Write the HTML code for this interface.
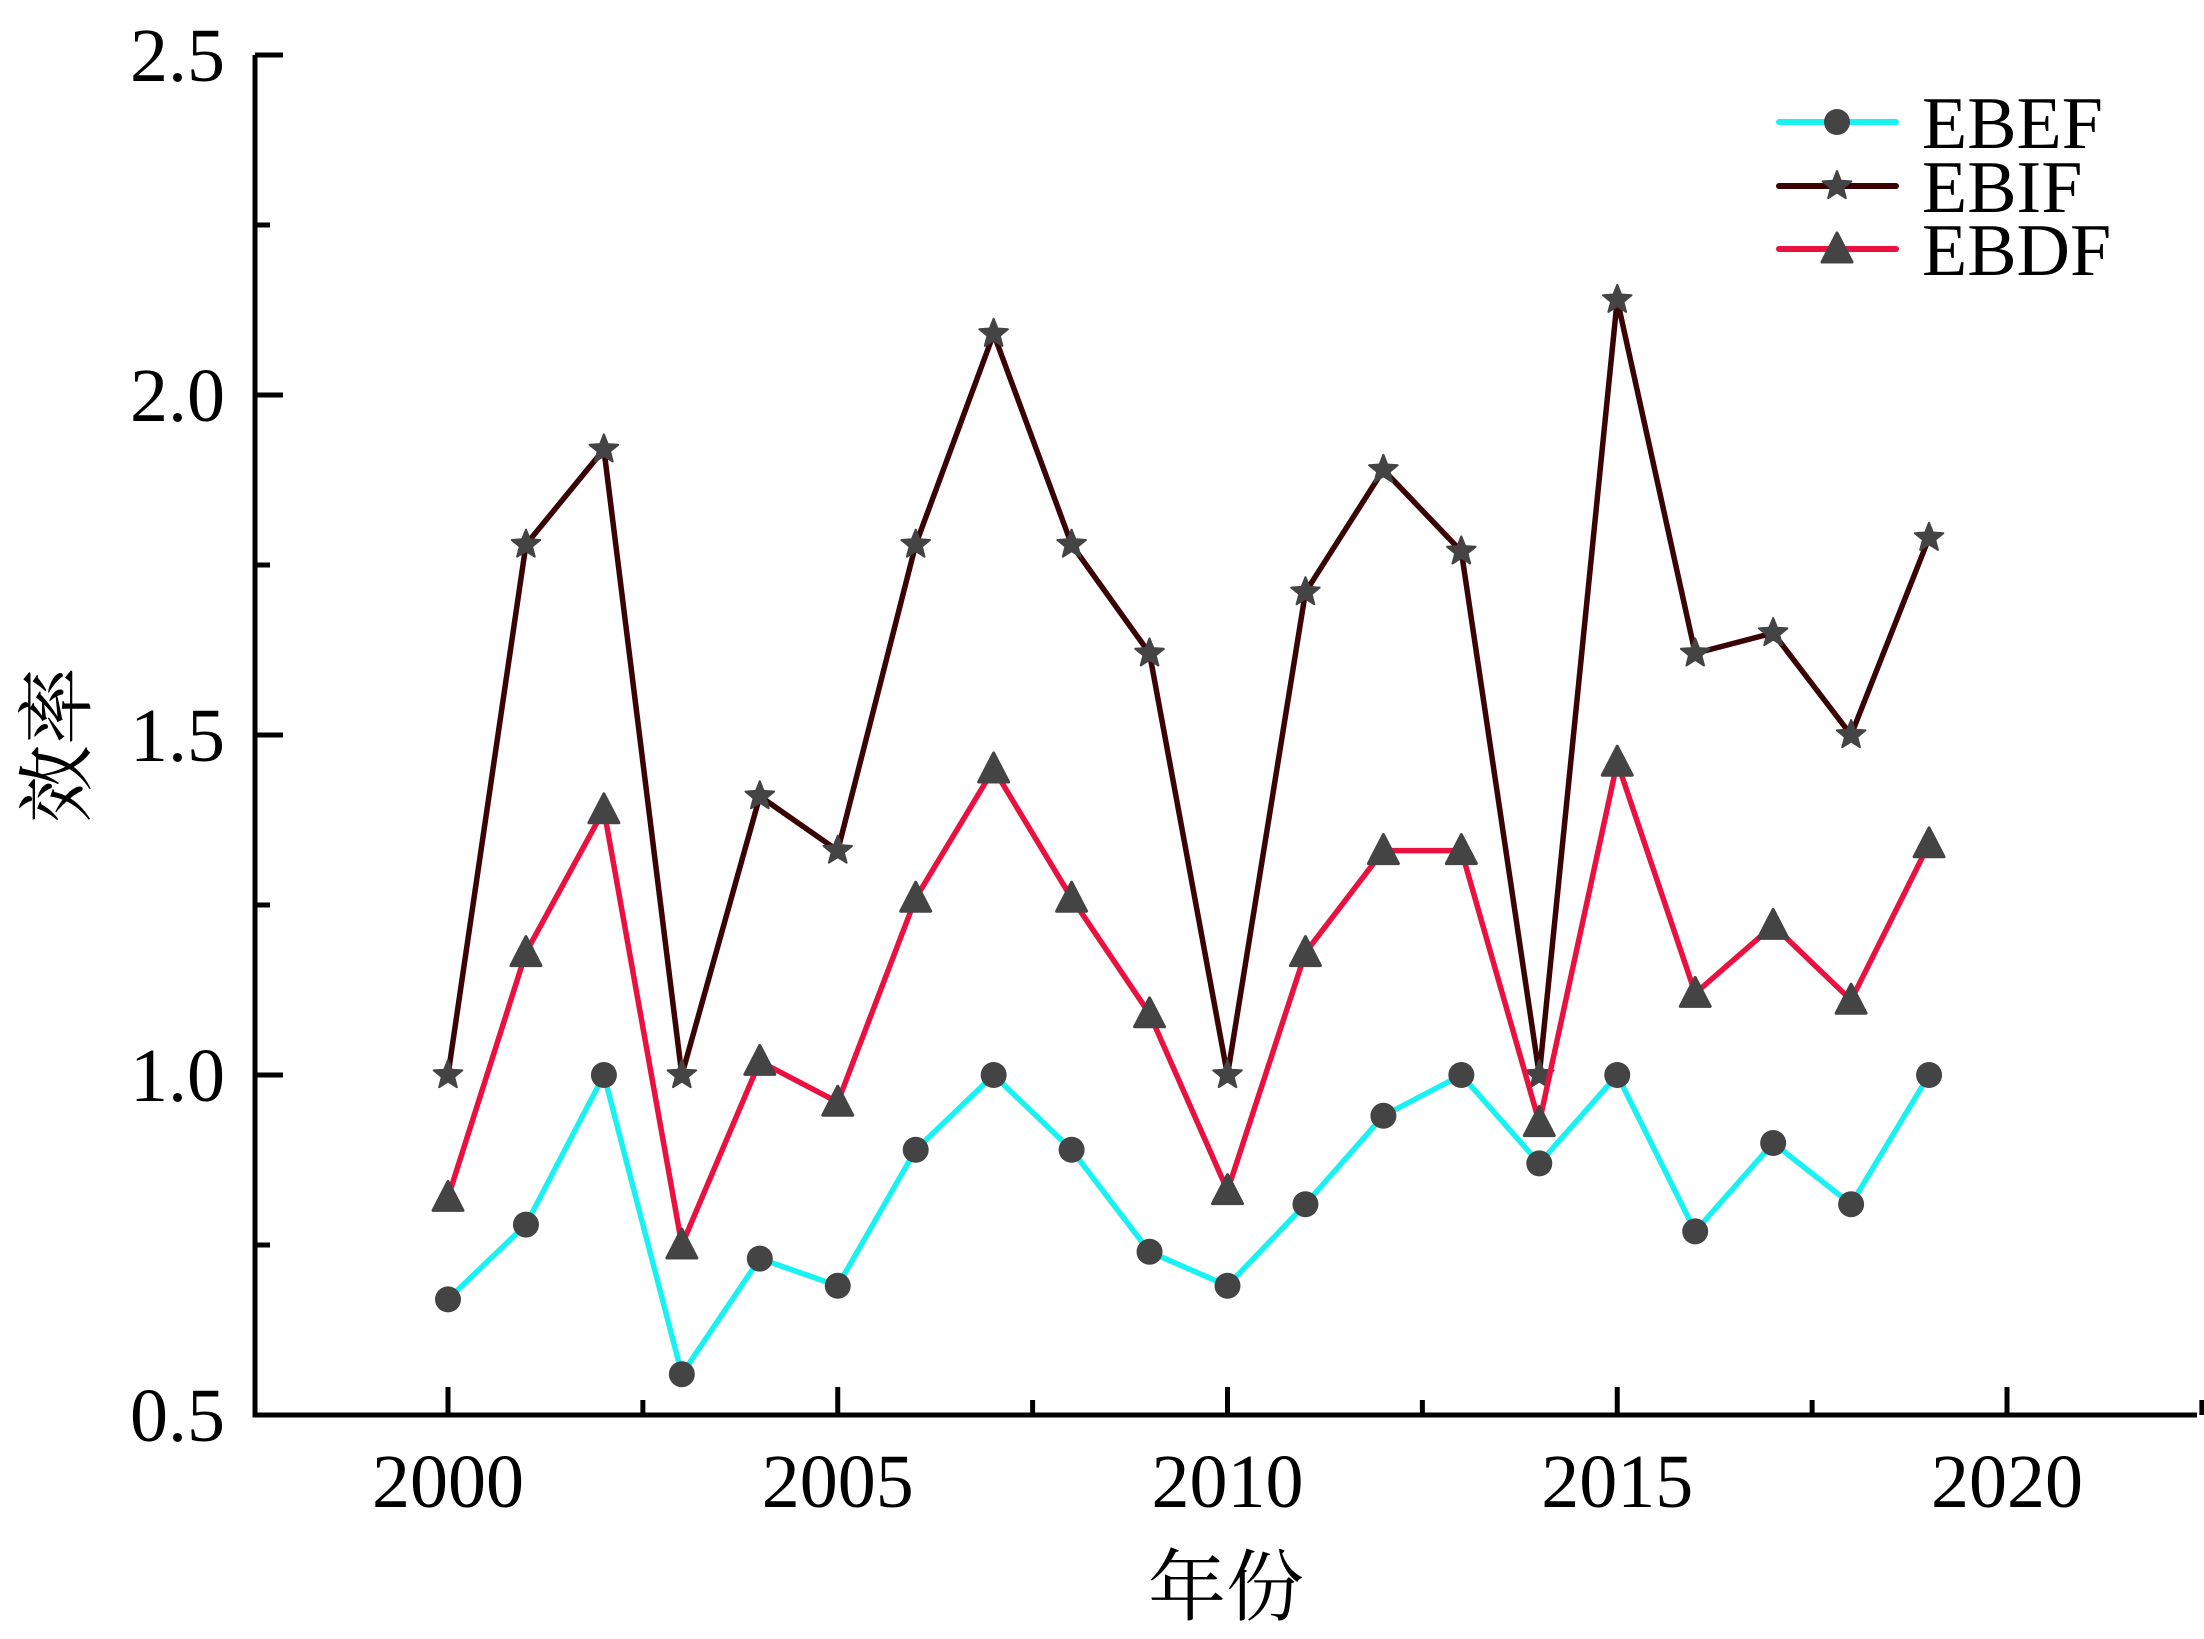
<!DOCTYPE html>
<html><head><meta charset="utf-8"><style>
body{margin:0;background:#fff}
svg text{font-family:"Liberation Serif","Noto Serif CJK SC",serif;fill:#000}
</style></head><body>
<svg id="chart" width="2204" height="1634" xmlns="http://www.w3.org/2000/svg">
<g id="axes"></g>
<g id="series"></g>
<g id="legend"></g>
<text x="1226" y="1614" font-size="78" text-anchor="middle">年份</text>
<text x="0" y="0" font-size="78" text-anchor="middle" transform="translate(84,745) rotate(-90)">效率</text>
</svg>
<script>
const years=[2000,2001,2002,2003,2004,2005,2006,2007,2008,2009,2010,2011,2012,2013,2014,2015,2016,2017,2018,2019];
const ebef=[0.67,0.78,1.0,0.56,0.73,0.69,0.89,1.0,0.89,0.74,0.69,0.81,0.94,1.0,0.87,1.0,0.77,0.90,0.81,1.0];
const ebif=[1.0,1.78,1.92,1.0,1.41,1.33,1.78,2.09,1.78,1.62,1.0,1.71,1.89,1.77,1.0,2.14,1.62,1.65,1.50,1.79];
const ebdf=[0.82,1.18,1.39,0.75,1.02,0.96,1.26,1.45,1.26,1.09,0.83,1.18,1.33,1.33,0.93,1.46,1.12,1.22,1.11,1.34];
const xTicks=[2000,2005,2010,2015,2020];
const yTicks=[0.5,1.0,1.5,2.0,2.5];
const NS="http://www.w3.org/2000/svg";
const X0=255,XEND=2197,Y0=1415,YTOP=55;
function sx(v){return 448+(v-2000)*(2007-448)/20;}
function sy(v){return Y0-(v-0.5)*(Y0-YTOP)/2;}
function mk(tag,attrs,parent){const e=document.createElementNS(NS,tag);for(const k in attrs)e.setAttribute(k,attrs[k]);parent.appendChild(e);return e;}
const axes=document.getElementById('axes');
let el=mk('path',{d:`M${X0},${YTOP} V${Y0} H${XEND}`,fill:'none',stroke:'#000','stroke-width':5},axes);


yTicks.forEach((t,i)=>{
  let l=mk('line',{x1:X0,x2:X0+28,y1:sy(t),y2:sy(t),stroke:'#000','stroke-width':5},axes);
  
  
  if(i<yTicks.length-1){let m=mk('line',{x1:X0,x2:X0+15,y1:sy(t+0.25),y2:sy(t+0.25),stroke:'#000','stroke-width':5},axes);
  
  }
  let tx=mk('text',{x:225,y:sy(t)+26,'font-size':76,'text-anchor':'end'},axes);tx.textContent=t.toFixed(1);
  
  
});
xTicks.forEach((t,i)=>{
  let l=mk('line',{x1:sx(t),x2:sx(t),y1:Y0,y2:Y0-28,stroke:'#000','stroke-width':5},axes);
  
  
  let m=mk('line',{x1:sx(t+2.5),x2:sx(t+2.5),y1:Y0,y2:Y0-15,stroke:'#000','stroke-width':5},axes);
  
  
  let tx=mk('text',{x:sx(t),y:1507,'font-size':76,'text-anchor':'middle'},axes);tx.textContent=t;
  
  
});
function marker(type,x,y,parent){
  let e;
  if(type==='circle')e=mk('circle',{cx:x,cy:y,r:13,fill:'#444'},parent);
  else if(type==='tri')e=mk('path',{d:`M${x},${y-16} L${x+15},${y+13} L${x-15},${y+13} Z`,fill:'#444',stroke:'#444','stroke-width':3,'stroke-linejoin':'round'},parent);
  else{let p=[];for(let k=0;k<10;k++){const r=k%2?6.5:15,a=-Math.PI/2+k*Math.PI/5;p.push((x+r*Math.cos(a)).toFixed(1)+','+(y+r*Math.sin(a)).toFixed(1));}
    e=mk('polygon',{points:p.join(' '),fill:'#444',stroke:'#444','stroke-width':2,'stroke-linejoin':'round'},parent);}
  return e;
}
const ser=document.getElementById('series');
const defs=[['ebef',ebef,'#19f2f2','circle','EBEF'],['ebif',ebif,'#3a0404','star','EBIF'],['ebdf',ebdf,'#ea1140','tri','EBDF']];
defs.forEach(([n,vals,col,mt,lab])=>{
  const g=mk('g',{},ser);
  
  
  const ln=mk('polyline',{points:vals.map((v,i)=>sx(years[i])+','+sy(v)).join(' '),fill:'none',stroke:col,'stroke-width':5.5,'stroke-linejoin':'round'},g);
  
  
  vals.forEach((v,i)=>{const m=marker(mt,sx(years[i]),sy(v),g);
    
    });
});
const leg=document.getElementById('legend');
const ly=[122,186,249];
defs.forEach(([n,vals,col,mt,lab],i)=>{
  const g=mk('g',{},leg);
  
  
  mk('line',{x1:1779,x2:1896,y1:ly[i],y2:ly[i],stroke:col,'stroke-width':6,'stroke-linecap':'round'},g);
  marker(mt,1837,ly[i],g);
  const t=mk('text',{x:1922,y:ly[i]+26,'font-size':74},g);t.textContent=lab;
});
</script>
</body></html>
